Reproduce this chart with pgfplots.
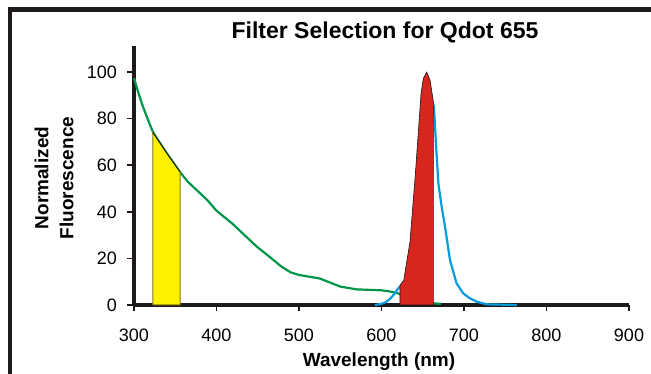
\documentclass[border=0pt]{standalone}
\usepackage{fontspec}
\setmainfont{Liberation Sans}
\usepackage{pgfplots}
\pgfplotsset{compat=1.18}
\definecolor{framec}{HTML}{1E1A1A}
\definecolor{absgreen}{HTML}{00964A}
\definecolor{emblue}{HTML}{0A9BDB}
\definecolor{filtred}{HTML}{D7261E}
\definecolor{filtyellow}{HTML}{FFF200}
\definecolor{yedge}{HTML}{857A10}
\begin{document}
\begin{tikzpicture}[x=1pt,y=1pt]
\path[use as bounding box] (-134,-69) rectangle (517,305);
\begin{axis}[
  at={(0,0)}, anchor=south west,
  scale only axis, width=495pt, height=258.5pt,
  xmin=300, xmax=900, ymin=0, ymax=111,
  axis x line=bottom, axis y line=left,
  axis line style={line width=4.2pt, color=framec, -},
  every tick/.style={line width=1.6pt, framec},
  tick align=outside, major tick length=6.5pt,
  xtick={300,400,...,900}, ytick={0,20,...,100},
  /pgf/number format/assume math mode=true,
  ticklabel style={font=\fontsize{18}{20}\selectfont},
  xticklabel style={yshift=-14pt},
  yticklabel style={xshift=-7pt},
  clip=false,
]
% absorption (green)
\addplot[absgreen, line width=2.2pt] coordinates {
(300,97.5) (305,91.5) (310,86) (315,81.3) (320,76.8) (323.4,74) (330,70.4) (340,65) (350,60)
(356,57) (365,53) (380,48) (389,45) (400,40.5) (419,35) (434,30) (449,25) (465,20.5)
(479,16.4) (490,14) (500,12.9) (510,12.3) (525,11.4) (535,10) (550,7.9) (570,6.7)
(600,6.3) (610,5.8) (620,5) (630,3.5) (645,1.6) (660,0.8) (672,0.5)};
% emission (blue)
\addplot[emblue, line width=2.2pt] coordinates {
(592,0) (600,0.5) (605,1.2) (610,2.5) (615,4.5) (620,7) (624,8.5) (628.5,10.5)
(636,27) (642.5,56) (649.5,91) (652,96) (654.8,98) (657.5,95.5) (660.5,89.4) (663.6,85)
(666,69.4) (669,52) (673,42) (677,33.6) (683,19.3) (691,9.3) (699,5) (707,2.9)
(715.5,1.4) (727.5,0.3) (764,0)};
% excitation filter (yellow)
\addplot[fill=filtyellow, draw=yedge, line width=1pt] coordinates {
(323,0) (323,74) (330,70.3) (340,65) (350,60) (356,57) (356,0)} -- cycle;
\addplot[black, line width=0.6pt] coordinates {(323,74) (330,70.3) (340,65) (350,60) (356,57)};
% emission filter (red)
\addplot[fill=filtred, draw=framec, line width=0.6pt] coordinates {
(622.4,0) (622.4,8.5) (626.9,10.5) (634.5,27) (641,56) (648,91) (650.7,97.3) (654.8,100)
(658.8,96.6) (662,89.4) (662.8,87) (662.8,0)} -- cycle;
\end{axis}
\draw[line width=4.5pt, framec, line join=miter] (-124.2,-90) -- (-124.2,295.5) -- (540,295.5);
\node[font=\fontsize{23}{26}\selectfont\bfseries, anchor=base] at (251,266.7) {Filter Selection for Qdot 655};
\node[font=\fontsize{19}{22}\selectfont\bfseries, anchor=base] at (245,-62) {Wavelength (nm)};
\node[font=\fontsize{19}{25}\selectfont\bfseries, rotate=90, align=center] at (-80,127) {Normalized\\Fluorescence};
\end{tikzpicture}
\end{document}
